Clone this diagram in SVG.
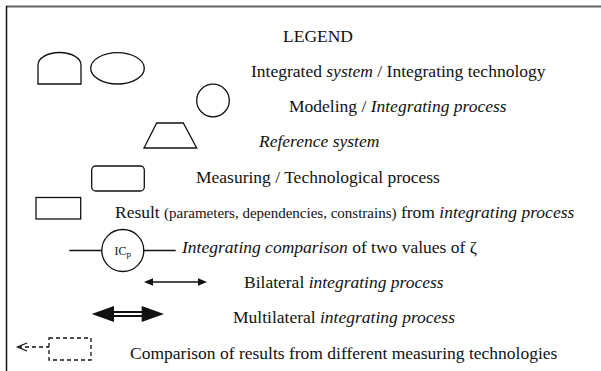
<svg xmlns="http://www.w3.org/2000/svg" width="601" height="371" viewBox="0 0 601 371">
<style>
  .s { fill: none; stroke: #111; stroke-width: 1.3; }
  .t { font-family: "Liberation Serif", "Times New Roman", serif; font-size: 17.5px; fill: #111; }
  .i { font-style: italic; }
  .sm { font-size: 15px; }
</style>
<rect width="601" height="371" fill="#fff"/>
<g id="frame">
  <line x1="6" y1="6.5" x2="601" y2="6.5" stroke="#666" stroke-width="2"/>
  <line x1="6.5" y1="6" x2="6.5" y2="371" stroke="#111" stroke-width="1.5"/>
</g>
<text class="t" x="283" y="41.7">LEGEND</text>
<g id="integrated-system">
  <path class="s" d="M38,84 L38,65 A21.5,12.5 0 0 1 81,65 L81,84 Z"/>
</g>
<g id="integrating-technology">
  <ellipse class="s" cx="117.5" cy="68.3" rx="26.8" ry="15.7"/>
</g>
<text class="t" x="251" y="76.9">Integrated <tspan class="i">system</tspan> / Integrating technology</text>
<g id="modeling">
  <circle class="s" cx="213" cy="100.5" r="16.3"/>
</g>
<text class="t" x="289" y="112.1">Modeling / <tspan class="i">Integrating process</tspan></text>
<g id="reference-system">
  <polygon class="s" points="144,148 196.7,148 183.3,123 156.7,123"/>
</g>
<text class="t i" x="259" y="147.3">Reference system</text>
<g id="measuring">
  <rect class="s" x="91.7" y="166" width="52.6" height="25" rx="4"/>
</g>
<text class="t" x="196" y="182.5">Measuring / Technological process</text>
<g id="result">
  <rect class="s" x="36" y="197.5" width="44.7" height="21.5"/>
</g>
<text class="t" x="115" y="217.7">Result <tspan class="sm">(parameters, dependencies, constrains)</tspan> from <tspan class="i">integrating process</tspan></text>
<g id="icp">
  <circle class="s" cx="122.8" cy="250.5" r="21"/>
  <text class="t" x="122.8" y="254.5" text-anchor="middle" style="font-size:12px">IC<tspan style="font-size:9px" dy="2.5">p</tspan></text>
</g>
<g id="connectors">
  <line class="s" x1="69.3" y1="250.5" x2="101.8" y2="250.5"/>
  <line class="s" x1="143.8" y1="250.5" x2="175.7" y2="250.5"/>
  <line class="s" x1="150" y1="282" x2="201" y2="282"/>
  <polygon points="144,282 153,278.3 153,285.7" fill="#111"/>
  <polygon points="207,282 198,278.3 198,285.7" fill="#111"/>
  <line x1="112" y1="312" x2="144" y2="312" stroke="#111" stroke-width="2"/>
  <line x1="112" y1="316" x2="144" y2="316" stroke="#111" stroke-width="2"/>
  <polygon points="91.7,314 114,306 114,322" fill="#111"/>
  <polygon points="164,314 141.7,306 141.7,322" fill="#111"/>
  <line class="s" x1="18" y1="347" x2="49" y2="347" stroke-dasharray="4 3"/>
  <polyline class="s" points="27,343 17.5,347 27,351"/>
</g>
<text class="t" x="182" y="252.9"><tspan class="i">Integrating comparison</tspan> of two values of ζ</text>
<text class="t" x="244" y="288.1">Bilateral <tspan class="i">integrating process</tspan></text>
<text class="t" x="233" y="323.3">Multilateral <tspan class="i">integrating process</tspan></text>
<g id="dashed-result">
  <rect class="s" x="49" y="338" width="42" height="22" stroke-dasharray="4 3"/>
</g>
<text class="t" x="130" y="358.5">Comparison of results from different measuring technologies</text>
</svg>
